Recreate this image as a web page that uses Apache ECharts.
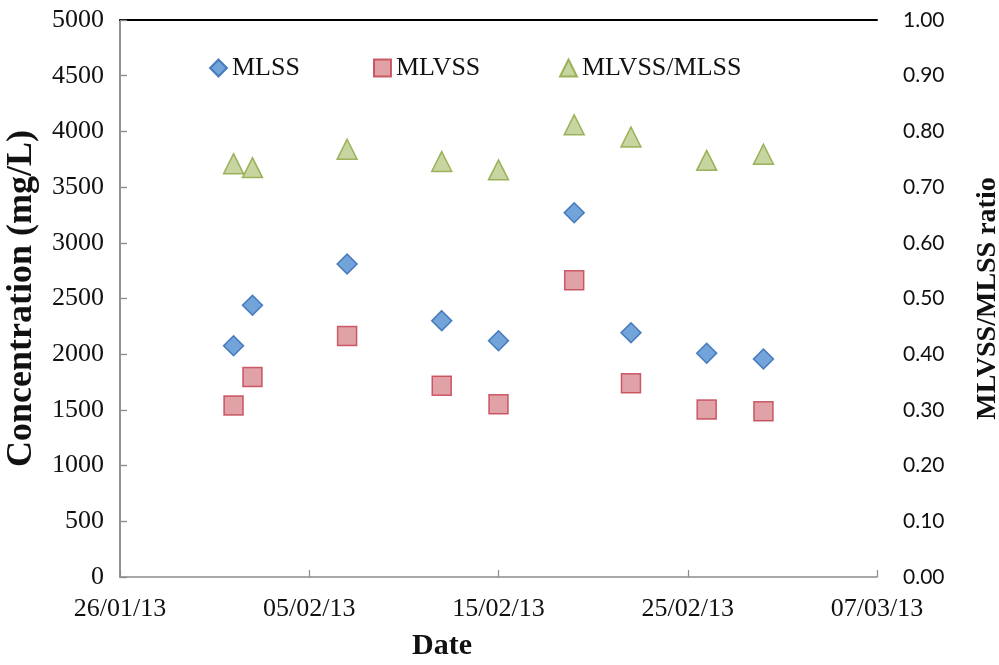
<!DOCTYPE html>
<html>
<head>
<meta charset="utf-8">
<script src="https://cdn.jsdelivr.net/npm/echarts@6/dist/echarts.min.js"></script>
<style>
html,body{margin:0;padding:0;background:#fff;}
#chart{width:999px;height:665px;}
</style>
</head>
<body>
<div id="chart"></div>
<script>
// ---- data ----
var startDate = '26/01/13';
var sampleDates = ['01/02/13','02/02/13','07/02/13','12/02/13','15/02/13','19/02/13','22/02/13','26/02/13','01/03/13'];
var mlss  = [2076, 2439, 2810, 2301, 2121, 3270, 2193, 2008, 1957];
var mlvss = [1540, 1795, 2163, 1717, 1550, 2663, 1739, 1503, 1487];
var ratio = [0.742, 0.735, 0.768, 0.746, 0.731, 0.812, 0.790, 0.748, 0.759];
var seriesNames = ['MLSS', 'MLVSS', 'MLVSS/MLSS'];
var xSpanDays = 40;      // 26/01/13 .. 07/03/13
var xStepDays = 10;
var leftMax = 5000, leftStep = 500;
var rightMax = 1, rightStep = 0.1;

// ---- helpers ----
function parseDMY(s) {
  var p = s.split('/');
  return Date.UTC(2000 + (+p[2]), (+p[1]) - 1, +p[0]);
}
var DAY = 86400000;
var t0 = parseDMY(startDate);
function dayOffset(s) { return Math.round((parseDMY(s) - t0) / DAY); }
function fmtDay(d) {
  var dt = new Date(t0 + d * DAY);
  var dd = ('0' + dt.getUTCDate()).slice(-2);
  var mm = ('0' + (dt.getUTCMonth() + 1)).slice(-2);
  var yy = ('0' + (dt.getUTCFullYear() % 100)).slice(-2);
  return dd + '/' + mm + '/' + yy;
}
function pairs(vals) { return vals.map(function (v, i) { return [dayOffset(sampleDates[i]), v]; }); }

var serif = 'Liberation Serif';
var axisGray = '#8c8c8c';

var chart = echarts.init(document.getElementById('chart'), null, {renderer: 'canvas'});
chart.setOption({
  animation: false,
  backgroundColor: '#ffffff',
  grid: {left: 120, right: 122, top: 20, bottom: 88, containLabel: false, outerBoundsMode: 'none'},
  legend: [
    {left: 209, top: 55, itemWidth: 17, itemHeight: 17, itemGap: 0, data: [{name: seriesNames[0], icon: 'diamond'}],
     textStyle: {fontFamily: serif, fontSize: 26, color: '#111'}, padding: 0},
    {left: 373, top: 55, itemWidth: 17, itemHeight: 17, itemGap: 0, data: [{name: seriesNames[1], icon: 'rect'}],
     textStyle: {fontFamily: serif, fontSize: 26, color: '#111'}, padding: 0},
    {left: 559, top: 55, itemWidth: 17, itemHeight: 17, itemGap: 0, data: [{name: seriesNames[2], icon: 'triangle'}],
     textStyle: {fontFamily: serif, fontSize: 26, color: '#111'}, padding: 0}
  ],
  xAxis: [
    {
      type: 'value', min: 0, max: xSpanDays, interval: xStepDays, position: 'bottom',
      axisLine: {show: true, lineStyle: {color: axisGray, width: 1.5}},
      axisTick: {show: true, inside: true, length: 7, lineStyle: {color: axisGray, width: 1.2}},
      axisLabel: {formatter: fmtDay, fontFamily: serif, fontSize: 26, color: '#111', margin: 19},
      splitLine: {show: false}
    },
    {
      type: 'value', min: 0, max: xSpanDays, position: 'top',
      axisLine: {show: true, onZero: false, lineStyle: {color: '#000', width: 2}},
      axisTick: {show: false}, axisLabel: {show: false}, splitLine: {show: false}
    }
  ],
  yAxis: [
    {
      type: 'value', min: 0, max: leftMax, interval: leftStep, position: 'left',
      name: 'Concentration (mg/L)', nameLocation: 'middle', nameGap: 80,
      nameTextStyle: {fontFamily: serif, fontWeight: 'bold', fontSize: 36, color: '#111'},
      axisLine: {show: true, lineStyle: {color: axisGray, width: 1.5}},
      axisTick: {show: true, inside: true, length: 7, lineStyle: {color: axisGray, width: 1.2}},
      axisLabel: {fontFamily: serif, fontSize: 26, color: '#111', margin: 16,
                  formatter: function (v) { return String(v); }},
      splitLine: {show: false}
    },
    {
      type: 'value', min: 0, max: rightMax, interval: rightStep, position: 'right',
      name: 'MLVSS/MLSS ratio', nameLocation: 'middle', nameGap: 97,
      nameTextStyle: {fontFamily: serif, fontWeight: 'bold', fontSize: 28, color: '#111'},
      axisLine: {show: true, lineStyle: {color: axisGray, width: 1.5}},
      axisTick: {show: true, inside: false, length: 7, lineStyle: {color: axisGray, width: 1.2}},
      axisLabel: {fontFamily: 'Lato', fontSize: 21, color: '#111', margin: 26,
                  formatter: function (v) { return v.toFixed(2); }},
      splitLine: {show: false}
    }
  ],
  graphic: [
    {type: 'text', left: 412, top: 631,
     style: {text: 'Date', fontFamily: serif, fontWeight: 'bold', fontSize: 30, fill: '#111'}}
  ],
  series: [
    {
      name: seriesNames[0], type: 'scatter', xAxisIndex: 0, yAxisIndex: 0, symbol: 'diamond', symbolSize: 20,
      itemStyle: {color: '#4f8cd0', borderColor: '#2c66b0', borderWidth: 1.5},
      data: pairs(mlss)
    },
    {
      name: seriesNames[1], type: 'scatter', xAxisIndex: 0, yAxisIndex: 0, symbol: 'rect', symbolSize: 19,
      itemStyle: {color: '#da8b91', borderColor: '#c23a4a', borderWidth: 1.5},
      data: pairs(mlvss)
    },
    {
      name: seriesNames[2], type: 'scatter', xAxisIndex: 0, yAxisIndex: 1, symbol: 'triangle', symbolSize: 20,
      itemStyle: {color: '#b9cb88', borderColor: '#8aa23c', borderWidth: 1.5},
      data: pairs(ratio)
    }
  ]
});
</script>
</body>
</html>
